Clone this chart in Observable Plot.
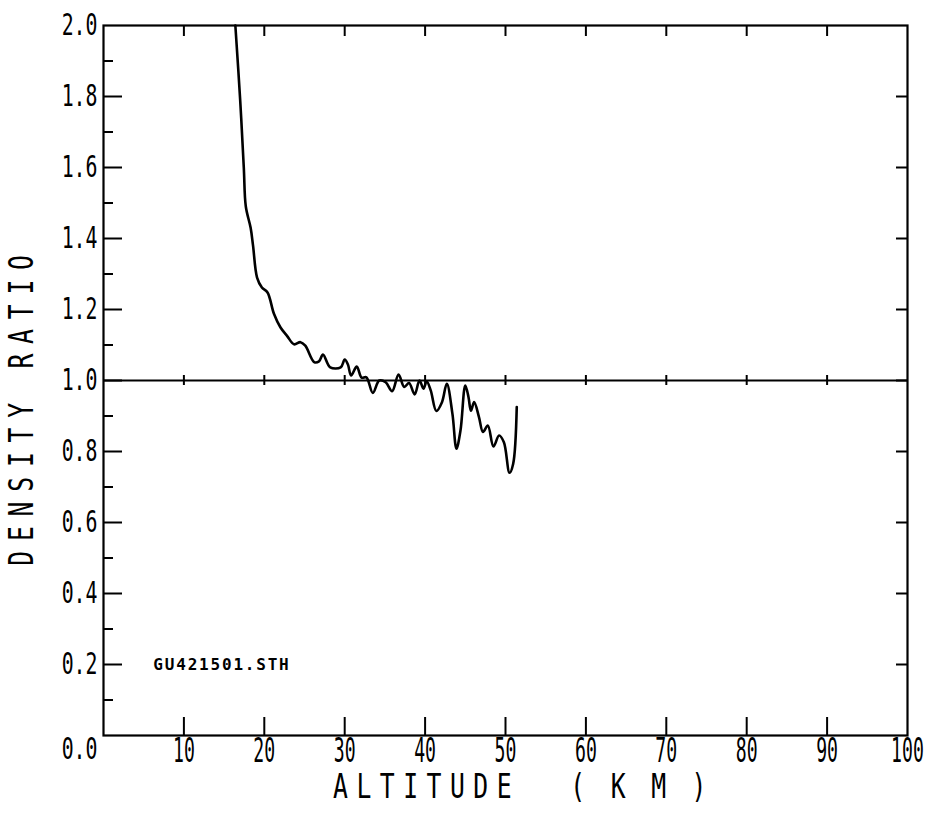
<!DOCTYPE html>
<html><head><meta charset="utf-8">
<script src="https://cdn.jsdelivr.net/npm/d3@7"></script>
<script src="https://cdn.jsdelivr.net/npm/@observablehq/plot@0.6"></script>
<style>body{margin:0;background:#fff}</style>
</head><body><div id="chart"></div>
<script>
const altitude = [16.4,17.0,17.45,17.7,18.3,18.6,19.1,19.7,20.4,21.2,22.0,22.85,23.7,24.5,25.1,26.2,26.8,27.3,28.2,29.5,30.0,30.4,30.8,31.5,32.1,32.7,33.5,34.3,35.1,35.9,36.7,37.4,38.0,38.7,39.3,39.8,40.2,40.7,41.4,42.1,42.7,43.4,43.9,44.4,45.0,45.4,45.7,46.1,46.7,47.2,47.8,48.5,49.2,49.8,50.5,50.95,51.4];
const densityRatio = [2.00,1.79,1.60,1.49,1.43,1.38,1.29,1.262,1.248,1.188,1.150,1.125,1.102,1.108,1.098,1.052,1.054,1.073,1.037,1.037,1.059,1.045,1.014,1.039,1.008,1.009,0.965,1.000,0.995,0.970,1.017,0.982,0.993,0.961,1.000,0.977,0.998,0.972,0.914,0.939,0.991,0.906,0.808,0.859,0.986,0.953,0.915,0.939,0.897,0.855,0.873,0.814,0.845,0.826,0.740,0.765,0.925];
const xTickValues = [10,20,30,40,50,60,70,80,90,100];
const yTickValues = [0.2,0.4,0.6,0.8,1.0,1.2,1.4,1.6,1.8,2.0];
const yZeroTick = [0.0];
const yMinorTicks = [0.1,0.3,0.5,0.7,0.9,1.1,1.3,1.5,1.7,1.9];
const referenceLevel = [1.0];
const xTitleParts = ["ALTITUDE", "(KM)"];
const xTitle = xTitleParts.join(" ");
const yTitle = "DENSITY RATIO";
const fileLabel = [{x: 6.2, y: 0.2, text: "GU421501.STH"}];

const data = altitude.map((a, i) => ({altitude: a, ratio: densityRatio[i]}));
const innerTicksX = xTickValues.filter(d => d < 100);
const innerTicksY = yTickValues.filter(d => d < 2);

const chart = Plot.plot({
  width: 930, height: 813,
  marginLeft: 103, marginRight: 23, marginTop: 25, marginBottom: 78,
  x: {domain: [0, 100]},
  y: {domain: [0, 2]},
  style: {fontFamily: "DejaVu Sans Mono", background: "white", color: "black"},
  marks: [
    Plot.frame({stroke: "black", strokeWidth: 2.2}),
    Plot.tickX(innerTicksX, {x: d => d, insetTop: 692, stroke: "black", strokeWidth: 2}),
    Plot.tickX(innerTicksX, {x: d => d, insetBottom: 699, stroke: "black", strokeWidth: 2}),
    Plot.tickY(innerTicksY, {y: d => d, insetRight: 785, stroke: "black", strokeWidth: 2}),
    Plot.tickY(yMinorTicks, {y: d => d, insetRight: 794, stroke: "black", strokeWidth: 2}),
    Plot.tickY(innerTicksY, {y: d => d, insetLeft: 793, stroke: "black", strokeWidth: 2}),
    Plot.ruleY(referenceLevel, {stroke: "black", strokeWidth: 2.2}),
    Plot.tickX(innerTicksX, {x: d => d, insetTop: 350, insetBottom: 350, stroke: "black", strokeWidth: 2}),
    Plot.line(data, {x: "altitude", y: "ratio", curve: "catmull-rom", stroke: "black", strokeWidth: 2.6}),
    Plot.axisX(xTickValues, {tickSize: 0, tickPadding: 3, fontSize: 33, tickFormat: d => String(d), label: null}),
    Plot.axisY(yTickValues, {tickSize: 0, tickPadding: 6, fontSize: 31, tickFormat: d3.format(".1f"), label: null}),
    Plot.axisY(yZeroTick, {tickSize: 0, tickPadding: 6, dy: 14, fontSize: 31, tickFormat: d3.format(".1f"), label: null}),
    Plot.text([xTitle], {frameAnchor: "bottom", lineAnchor: "middle", textAnchor: "middle", text: d => d, dx: 27, dy: 52, fontSize: 33}),
    Plot.text([yTitle], {frameAnchor: "left", lineAnchor: "middle", textAnchor: "middle", text: d => d, rotate: -90, dx: -81, dy: 25, fontSize: 33}),
    Plot.text(fileLabel, {x: "x", y: "y", text: "text", textAnchor: "start", fontSize: 16, fontWeight: "bold"})
  ]
});

function squeeze(selector, sx) {
  chart.querySelectorAll(selector).forEach(t => {
    const tr = t.getAttribute("transform") || "";
    t.setAttribute("transform", tr + ` scale(${sx},1)`);
  });
}
squeeze('g[aria-label="x-axis tick label"] text', 0.55);
squeeze('g[aria-label="y-axis tick label"] text', 0.64);

const NS = "http://www.w3.org/2000/svg";
chart.querySelectorAll("text").forEach(t => {
  const s = t.textContent;
  if (s === xTitle) {
    t.setAttribute("transform", (t.getAttribute("transform") || "") + " scale(0.75,1)");
    t.textContent = "";
    const a = document.createElementNS(NS, "tspan");
    a.textContent = xTitleParts[0] + " ";
    a.style.letterSpacing = "11.3px";
    const b = document.createElementNS(NS, "tspan");
    b.textContent = xTitleParts[1];
    b.setAttribute("dx", "36");
    b.style.letterSpacing = "34px";
    t.appendChild(a); t.appendChild(b);
  } else if (s === yTitle) {
    t.setAttribute("transform", (t.getAttribute("transform") || "") + " scale(0.75,1)");
    t.style.letterSpacing = "13px";
  } else if (s === fileLabel[0].text) {
    t.style.letterSpacing = "1.8px";
  }
});

document.getElementById("chart").appendChild(chart);
</script>
</body></html>
